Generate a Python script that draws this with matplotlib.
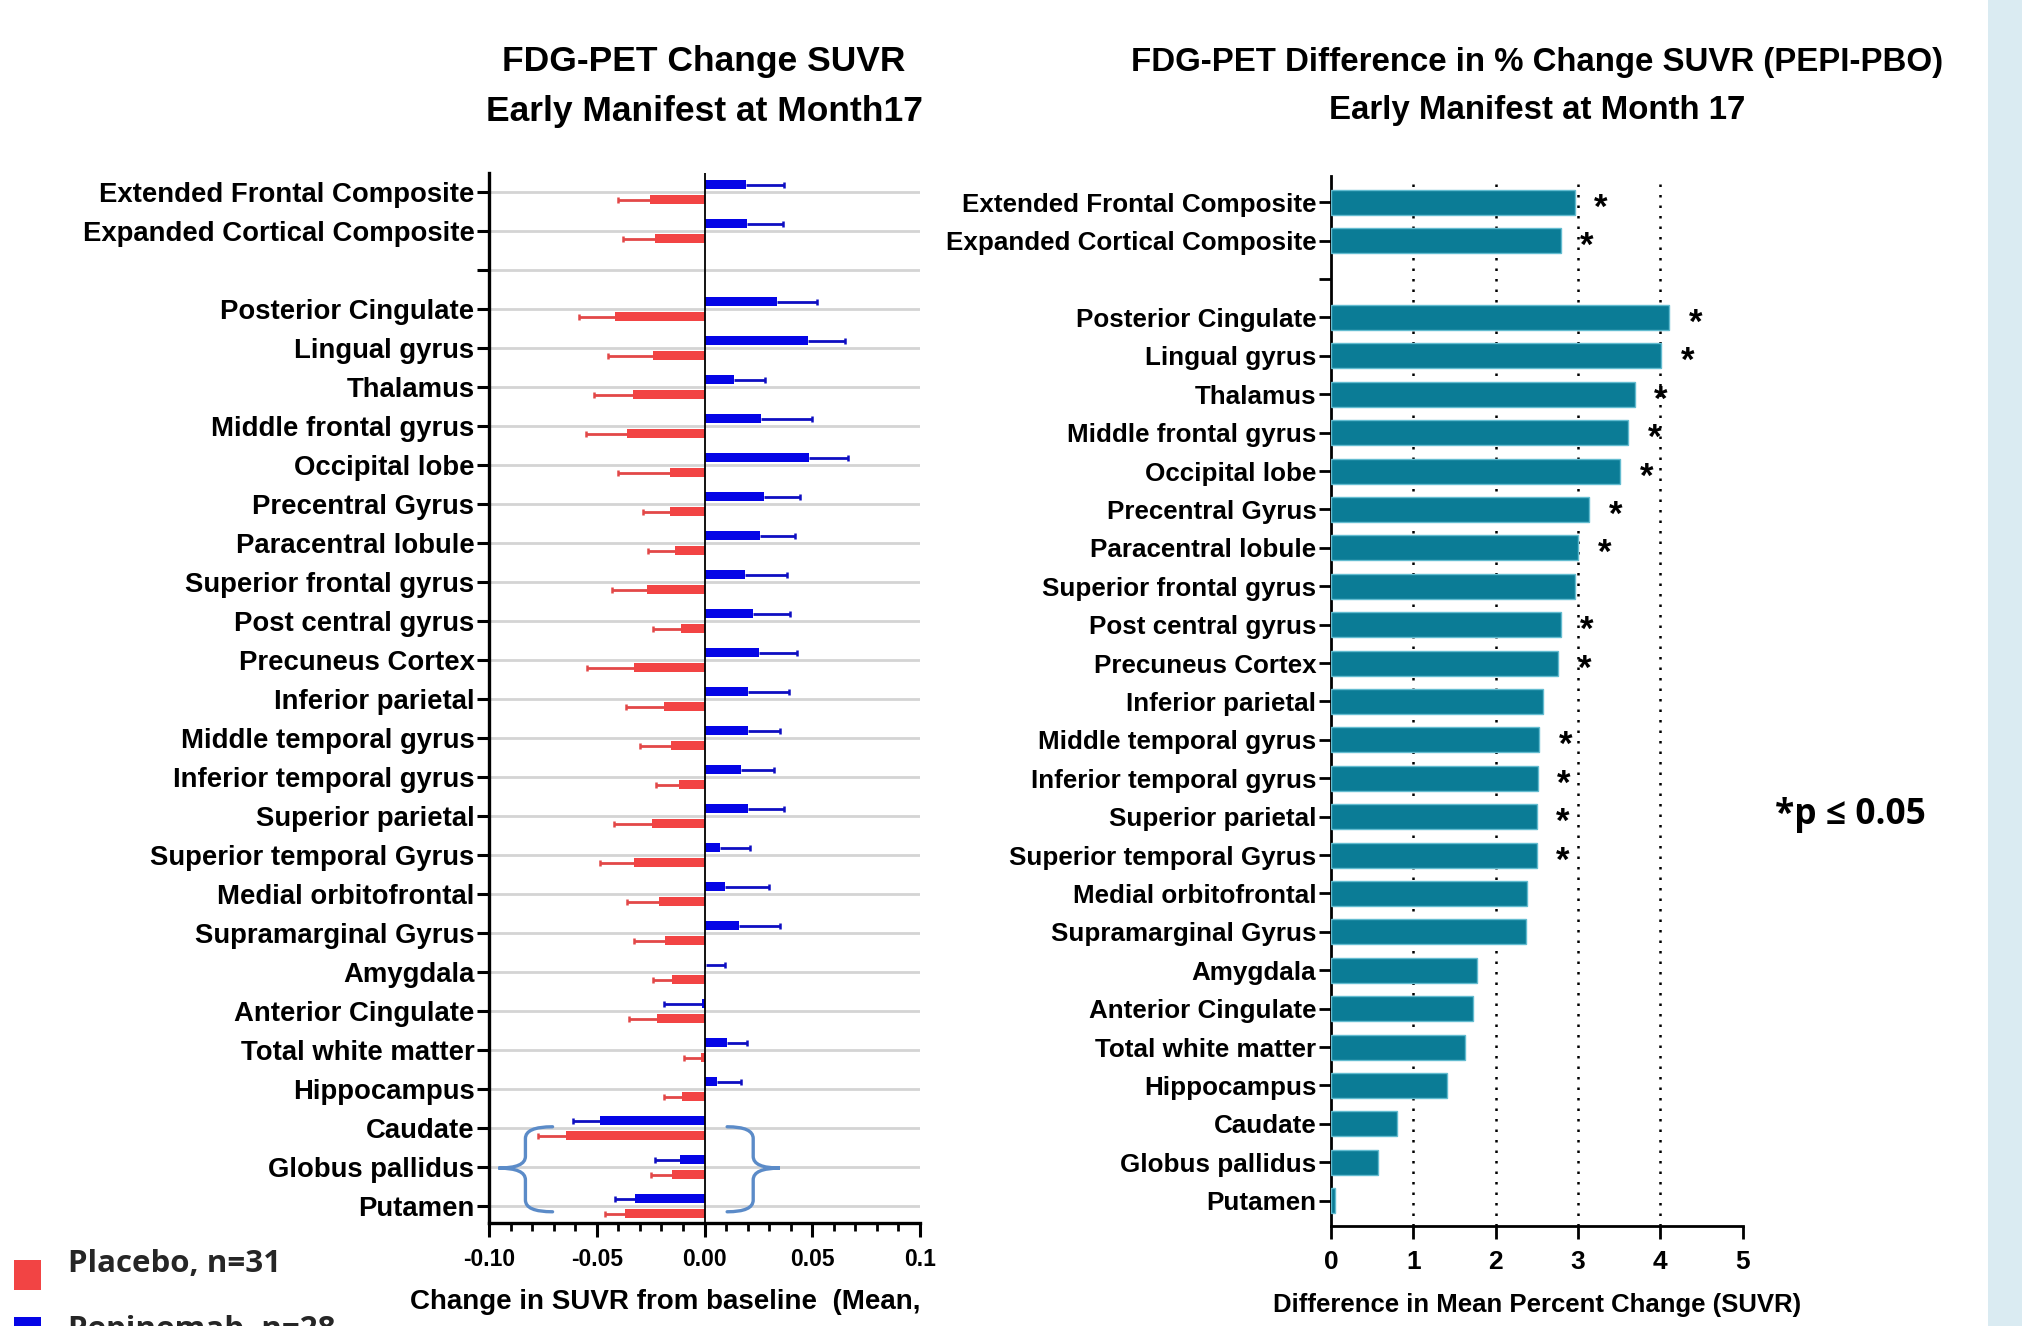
import numpy as np
import matplotlib
matplotlib.use("Agg")
import matplotlib.pyplot as plt
from matplotlib.patches import Rectangle, PathPatch
from matplotlib.path import Path

# ---------------- data ----------------
regions = ["Extended Frontal Composite", "Expanded Cortical Composite", "",
           "Posterior Cingulate", "Lingual gyrus", "Thalamus", "Middle frontal gyrus",
           "Occipital lobe", "Precentral Gyrus", "Paracentral lobule",
           "Superior frontal gyrus", "Post central gyrus", "Precuneus Cortex",
           "Inferior parietal", "Middle temporal gyrus", "Inferior temporal gyrus",
           "Superior parietal", "Superior temporal Gyrus", "Medial orbitofrontal",
           "Supramarginal Gyrus", "Amygdala", "Anterior Cingulate", "Total white matter",
           "Hippocampus", "Caudate", "Globus pallidus", "Putamen"]

nan = np.nan
placebo_mean = [-0.0252, -0.0232, nan, -0.0416, -0.0238, -0.0333, -0.0360, -0.0158, -0.0158,
                -0.0139, -0.0268, -0.0108, -0.0329, -0.0187, -0.0155, -0.0119, -0.0243,
                -0.0328, -0.0213, -0.0184, -0.0150, -0.0220, -0.0014, -0.0105, -0.0645,
                -0.0150, -0.0370]
placebo_sem = [0.0148, 0.0147, nan, 0.0167, 0.0212, 0.0182, 0.0189, 0.0242, 0.0127, 0.0125,
               0.0159, 0.0133, 0.0215, 0.0178, 0.0145, 0.0107, 0.0175, 0.0159, 0.0147,
               0.0142, 0.0091, 0.0131, 0.0083, 0.0084, 0.0127, 0.0096, 0.0093]
pepi_mean = [0.0192, 0.0198, nan, 0.0337, 0.0480, 0.0138, 0.0263, 0.0486, 0.0277, 0.0257,
             0.0189, 0.0227, 0.0252, 0.0201, 0.0201, 0.0170, 0.0201, 0.0073, 0.0093, 0.0162,
             0.0005, -0.0010, 0.0104, 0.0059, -0.0486, -0.0114, -0.0323]
pepi_sem = [0.0178, 0.0165, nan, 0.0184, 0.0174, 0.0142, 0.0237, 0.0178, 0.0164, 0.0163,
            0.0196, 0.0172, 0.0178, 0.0189, 0.0150, 0.0153, 0.0169, 0.0139, 0.0204, 0.0189,
            0.0092, 0.0179, 0.0092, 0.0110, 0.0122, 0.0118, 0.0092]

diff_pct = [2.96, 2.79, nan, 4.11, 4.01, 3.69, 3.61, 3.51, 3.14, 3.00, 2.96, 2.79, 2.76,
            2.57, 2.53, 2.51, 2.50, 2.50, 2.38, 2.37, 1.77, 1.73, 1.63, 1.41, 0.80, 0.57, 0.045]
significant = [1, 1, 0, 1, 1, 1, 1, 1, 1, 1, 0, 1, 1, 0, 1, 1, 1, 1, 0, 0, 0, 0, 0, 0, 0, 0, 0]

left_xticks = [-0.10, -0.05, 0.00, 0.05, 0.1]
left_xticklabels = ["-0.10", "-0.05", "0.00", "0.05", "0.1"]
right_xticks = [0, 1, 2, 3, 4, 5]

# ---------------- styling ----------------
W, H = 2022, 1326
RED, RED_ERR = "#F24444", "#E24848"
BLUE, BLUE_ERR = "#0505E6", "#0E0EC2"
TEAL, TEAL_EDGE = "#0B7C96", "#63BCD0"
BRACE = "#5B8BC8"
FONT = "Liberation Sans"

def fx(x): return x / W
def fy(y): return 1 - y / H

fig = plt.figure(figsize=(W / 100, H / 100), dpi=100)
fig.patch.set_facecolor("white")
fig.patches.append(Rectangle((fx(1988), 0), 1 - fx(1988), 1, transform=fig.transFigure,
                             facecolor="#DAEBF2", edgecolor="none", zorder=0))

y = np.arange(len(regions))

# ---------------- left panel ----------------
axL = fig.add_axes([fx(489), fy(1222.7), fx(920) - fx(489), fy(173) - fy(1222.7)])
pm = np.array(placebo_mean); ps = np.array(placebo_sem)
bm = np.array(pepi_mean); bs = np.array(pepi_sem)
ok = ~np.isnan(pm)
yb = y[ok] - 0.19
yr = y[ok] + 0.20
axL.barh(yb, bm[ok], height=0.24, color=BLUE, zorder=3)
axL.barh(yr, pm[ok], height=0.24, color=RED, zorder=3)
b_end = bm[ok] + np.sign(bm[ok]) * bs[ok]
r_end = pm[ok] + np.sign(pm[ok]) * ps[ok]
axL.hlines(yb, bm[ok], b_end, color=BLUE_ERR, lw=2.0, zorder=2.5)
axL.hlines(yr, pm[ok], r_end, color=RED_ERR, lw=2.0, zorder=2.5)
axL.plot(b_end, yb, ls="none", marker="|", ms=4.0, mew=1.8, color=BLUE_ERR, zorder=2.5)
axL.plot(r_end, yr, ls="none", marker="|", ms=4.0, mew=1.8, color=RED_ERR, zorder=2.5)
axL.axvline(0, color="black", lw=1.3, zorder=4)

axL.set_xlim(-0.10, 0.10)
axL.set_ylim(26.43, -0.487)
axL.set_yticks(y)
axL.set_yticklabels(regions, fontsize=19.8, fontweight="bold", family=FONT)
axL.set_xticks(left_xticks)
axL.set_xticklabels(left_xticklabels, fontsize=16.5, fontweight="bold", family=FONT)
axL.set_xticks(np.arange(-0.10, 0.1001, 0.01), minor=True)
axL.tick_params(axis="y", length=8.5, width=2.2, pad=2)
axL.tick_params(axis="x", which="major", length=10, width=2.2, pad=8)
axL.tick_params(axis="x", which="minor", length=6, width=2.0)
axL.yaxis.grid(True, color="#D4D4D4", lw=2.0)
axL.set_axisbelow(True)
for s in ["top", "right"]:
    axL.spines[s].set_visible(False)
for s in ["left", "bottom"]:
    axL.spines[s].set_linewidth(2.4)

# curly braces around the basal ganglia rows
def brace(ax, x_end, x_mid, x_tip, top, mid, bot):
    v = [(x_end, top), (x_mid, top), (x_mid, top + 0.3),
         (x_mid, mid - 0.3),
         (x_mid, mid), (x_tip, mid),
         (x_mid, mid), (x_mid, mid + 0.3),
         (x_mid, bot - 0.3),
         (x_mid, bot), (x_end, bot)]
    c = [Path.MOVETO, Path.CURVE3, Path.CURVE3, Path.LINETO,
         Path.CURVE3, Path.CURVE3, Path.CURVE3, Path.CURVE3,
         Path.LINETO, Path.CURVE3, Path.CURVE3]
    ax.add_patch(PathPatch(Path(v, c), facecolor="none", edgecolor=BRACE, lw=2.4,
                           capstyle="round", zorder=5))

brace(axL, -0.0705, -0.0831, -0.0956, 23.97, 25.03, 26.15)
brace(axL, 0.0105, 0.0226, 0.0350, 23.97, 25.03, 26.15)

fig.text(fx(704), fy(62), "FDG-PET Change SUVR", ha="center", va="center",
         fontsize=25.5, fontweight="bold", family=FONT)
fig.text(fx(704), fy(111), "Early Manifest at Month17", ha="center", va="center",
         fontsize=25.5, fontweight="bold", family=FONT)
fig.text(fx(410), fy(1302), "Change in SUVR from baseline  (Mean,", ha="left", va="center",
         fontsize=20, fontweight="bold", family=FONT)

# ---------------- right panel ----------------
axR = fig.add_axes([fx(1331), fy(1226), fx(1742.5) - fx(1331), fy(176) - fy(1226)])
dv = np.array(diff_pct)
okr = ~np.isnan(dv)
axR.barh(y[okr], dv[okr], height=0.65, color=TEAL, edgecolor=TEAL_EDGE, lw=1.0, zorder=3)
sig = np.array(significant, dtype=bool)
for yi, v in zip(y[sig], dv[sig]):
    axR.text(v + 0.32, yi + 0.40, "*", ha="center", va="baseline", fontsize=25,
             fontweight="bold", family=FONT, zorder=4)
axR.set_xlim(0, 5)
axR.set_ylim(26.66, -0.685)
axR.set_yticks(y)
axR.set_yticklabels(regions, fontsize=18.7, fontweight="bold", family=FONT)
axR.set_xticks(right_xticks)
axR.set_xticklabels([str(t) for t in right_xticks], fontsize=19, fontweight="bold", family=FONT)
axR.tick_params(axis="y", length=8.5, width=2.0, pad=2)
axR.tick_params(axis="x", length=9.5, width=2.0, pad=8)
for xv in right_xticks[1:-1]:
    axR.axvline(xv, color="black", lw=1.8, ls=(0, (1, 3.2)), zorder=1)
for s in ["top", "right"]:
    axR.spines[s].set_visible(False)
for s in ["left", "bottom"]:
    axR.spines[s].set_linewidth(2.0)

fig.text(fx(1537), fy(62), "FDG-PET Difference in % Change SUVR (PEPI-PBO)", ha="center",
         va="center", fontsize=23.8, fontweight="bold", family=FONT)
fig.text(fx(1537), fy(111), "Early Manifest at Month 17", ha="center", va="center",
         fontsize=23.8, fontweight="bold", family=FONT)
fig.text(fx(1537), fy(1305), "Difference in Mean Percent Change (SUVR)", ha="center",
         va="center", fontsize=18.5, fontweight="bold", family=FONT)

fig.text(fx(1850), fy(815), "*p \u2264 0.05", ha="center", va="center", fontsize=25.5,
         fontweight="bold", family=["Open Sans", "DejaVu Sans"])

# ---------------- legend ----------------
fig.patches.append(Rectangle((fx(14), fy(1290)), fx(27), 30 / H, transform=fig.transFigure,
                             facecolor=RED, edgecolor="none"))
fig.patches.append(Rectangle((fx(14), fy(1347)), fx(27), 30 / H, transform=fig.transFigure,
                             facecolor=BLUE, edgecolor="none"))
fig.text(fx(68), fy(1264), "Placebo, n=31", ha="left", va="center", fontsize=22.5,
         fontweight="bold", color="#262626", family=["Open Sans", "DejaVu Sans"])
fig.text(fx(68), fy(1330), "Pepinemab, n=28", ha="left", va="center", fontsize=22.5,
         fontweight="bold", color="#262626", family=["Open Sans", "DejaVu Sans"])

fig.savefig("out.png", dpi=100, facecolor="white")
